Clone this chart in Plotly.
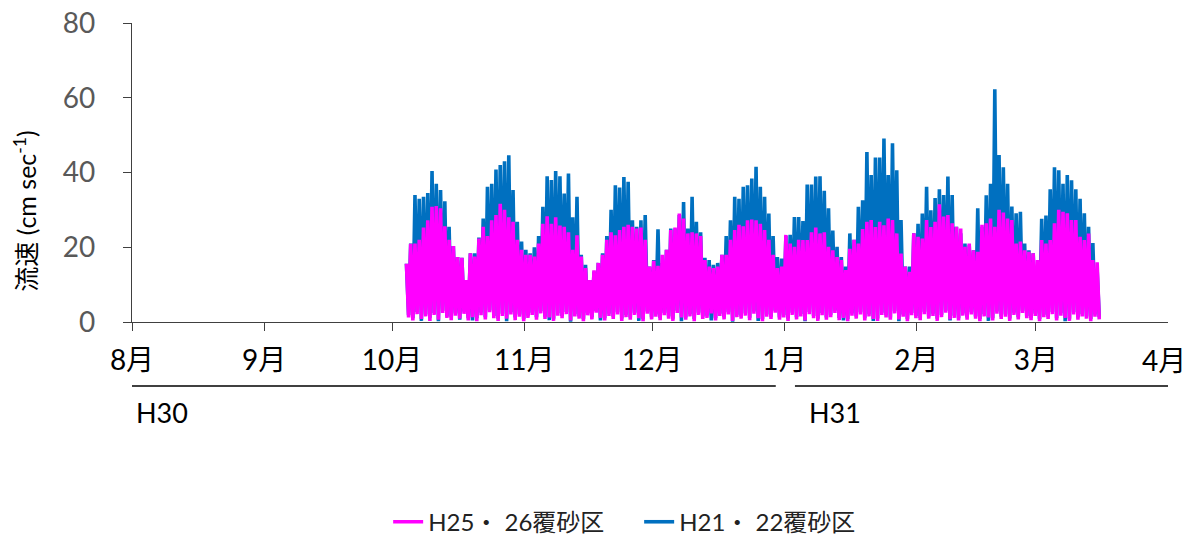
import pandas as pd
import plotly.graph_objects as go

# Daily current-speed envelope (cm/sec), one value per day from 2018-10-04
start_date = "2018-10-04"

# H21・22 sand-capping area: daily peak and daily low
blue_max = [
    15.6, 21.0, 34.0, 33.0, 33.5, 34.5, 40.4, 37.0, 35.3, 32.3,
    25.5, 20.3, 17.4, 17.2, 10.8, 18.4, 18.4, 22.6, 27.7, 36.2,
    37.0, 40.8, 42.0, 43.0, 44.6, 35.3, 26.8, 21.5, 19.3, 18.4,
    20.0, 23.0, 30.8, 39.0, 38.0, 40.4, 39.0, 34.4, 39.7, 28.0,
    33.5, 18.0, 15.3, 11.2, 13.5, 15.8, 18.4, 23.0, 30.0, 36.6,
    36.0, 38.8, 37.5, 27.2, 25.5, 27.2, 28.6, 14.8, 16.6, 24.8,
    15.8, 19.3, 25.0, 25.0, 28.6, 32.1, 25.0, 33.5, 26.8, 24.0,
    17.2, 16.6, 15.3, 15.8, 18.0, 23.0, 27.2, 33.5, 33.0, 36.2,
    36.6, 38.4, 41.5, 36.2, 33.5, 29.0, 23.0, 17.4, 17.0, 23.0,
    23.3, 28.1, 28.1, 27.0, 36.8, 36.8, 38.9, 39.0, 35.1, 30.4,
    24.5, 20.1, 17.4, 14.8, 23.7, 22.0, 30.8, 32.6, 45.5, 39.3,
    44.0, 44.0, 49.1, 39.3, 47.8, 40.6, 27.3, 14.8, 14.8, 23.7,
    26.3, 29.0, 36.2, 29.9, 33.2, 35.5, 34.0, 38.9, 34.0, 25.5,
    23.7, 21.0, 20.5, 19.2, 30.4, 25.5, 33.9, 37.0, 62.3, 44.7,
    41.4, 37.0, 30.9, 29.1, 29.5, 21.0, 19.2, 18.4, 14.8, 27.6,
    28.5, 35.5, 41.4, 40.6, 37.0, 39.3, 37.9, 35.5, 33.0, 29.1,
    25.5, 21.1, 14.0,
]
blue_min = [
    1.8, 1.0, 2.7, 0.3, 2.0, 1.1, 2.4, 0.2, 3.0, 1.5,
    1.2, 2.3, 0.6, 2.8, 1.0, 0.4, 1.0, 2.5, 1.3, 3.1,
    1.6, 0.9, 2.2, 0.2, 2.6, 1.2, 2.0, 0.8, 1.7, 2.5,
    1.3, 2.9, 1.4, 0.5, 0.9, 2.3, 1.6, 2.7, 0.1, 2.1,
    1.5, 0.8, 2.4, 1.3, 3.0, 0.4, 1.0, 2.2, 1.4, 2.6,
    0.9, 1.9, 1.2, 2.5, 0.3, 0.8, 2.8, 1.3, 2.0, 1.1,
    2.4, 1.5, 0.9, 3.0, 0.2, 1.2, 2.1, 0.8, 2.5, 1.4,
    1.7, 0.4, 1.0, 2.2, 1.3, 2.6, 0.1, 1.9, 1.5, 2.3,
    1.1, 2.8, 0.3, 0.8, 2.0, 1.4, 3.0, 1.2, 1.8, 0.9,
    2.5, 1.3, 2.1, 0.2, 2.7, 1.6, 0.9, 2.4, 1.2, 1.9,
    3.0, 1.1, 0.4, 0.8, 2.3, 1.5, 2.6, 1.0, 2.1, 0.3,
    0.9, 2.5, 1.8, 1.2, 2.9, 0.2, 2.0, 0.8, 2.4, 1.6,
    1.1, 2.7, 1.5, 2.2, 0.9, 1.9, 3.0, 0.4, 1.7, 1.0,
    2.3, 1.2, 2.6, 1.5, 0.8, 2.1, 0.3, 1.0, 2.8, 1.4,
    2.0, 0.9, 2.5, 1.3, 3.0, 1.6, 1.1, 2.2, 0.8, 1.9,
    1.4, 2.7, 1.0, 2.3, 0.2, 0.9, 2.6, 1.2, 2.1, 1.5,
    0.8, 2.0, 1.3,
]

# H25・26 sand-capping area: daily peak and daily low
magenta_max = [
    15.6, 20.9, 21.0, 22.0, 25.3, 27.2, 30.8, 31.0, 30.4, 25.6,
    22.0, 20.3, 17.4, 17.2, 11.2, 18.4, 17.5, 22.3, 25.5, 23.0,
    27.2, 28.6, 31.6, 30.0, 28.0, 26.8, 22.0, 19.3, 18.0, 18.0,
    17.5, 21.0, 26.3, 28.3, 26.3, 28.0, 25.8, 25.5, 24.0, 19.3,
    23.2, 17.5, 14.4, 11.2, 13.8, 15.8, 18.0, 22.0, 24.0, 23.2,
    24.6, 25.5, 26.0, 25.5, 25.0, 25.3, 22.0, 14.8, 16.4, 15.0,
    18.0, 19.3, 24.6, 25.3, 29.0, 27.7, 23.7, 24.0, 23.7, 23.0,
    16.6, 14.8, 14.4, 14.8, 18.0, 18.0, 22.0, 24.6, 26.0, 25.6,
    27.2, 27.4, 27.2, 26.3, 24.6, 22.0, 18.0, 14.4, 14.8, 23.3,
    21.0, 20.1, 22.0, 21.9, 21.9, 24.0, 25.3, 23.7, 24.0, 20.1,
    19.2, 17.4, 16.6, 13.9, 19.6, 22.0, 21.0, 24.9, 26.8, 27.3,
    25.4, 26.8, 25.9, 27.7, 27.3, 23.7, 18.3, 14.8, 13.4, 23.7,
    22.8, 22.3, 27.3, 25.4, 26.8, 31.5, 28.2, 28.6, 26.4, 25.5,
    25.0, 20.1, 21.0, 19.2, 18.8, 26.0, 26.4, 27.7, 25.5, 30.0,
    29.3, 27.7, 27.3, 21.0, 21.5, 19.2, 18.8, 18.4, 16.6, 21.9,
    21.0, 21.9, 26.4, 30.0, 29.5, 29.1, 27.3, 27.3, 22.8, 21.9,
    23.7, 16.6, 16.0,
]
magenta_min = [
    1.2, 0.4, 2.1, 0.8, 1.5, 0.3, 1.9, 0.6, 2.4, 1.1,
    0.5, 1.7, 0.9, 2.2, 0.4, 1.3, 0.2, 1.8, 0.7, 2.6,
    1.0, 0.3, 1.6, 0.9, 2.0, 0.5, 1.4, 0.2, 1.1, 1.9,
    0.6, 2.3, 0.8, 1.2, 0.3, 1.7, 1.0, 2.1, 0.4, 1.5,
    0.9, 0.2, 1.8, 0.7, 2.5, 1.1, 0.4, 1.6, 0.8, 2.0,
    0.3, 1.3, 0.6, 1.9, 1.0, 0.2, 2.2, 0.7, 1.4, 0.5,
    1.8, 0.9, 0.3, 2.4, 1.2, 0.6, 1.5, 0.2, 1.9, 0.8,
    1.1, 2.3, 0.4, 1.6, 0.7, 2.0, 0.3, 1.3, 0.9, 1.7,
    0.5, 2.2, 1.0, 0.2, 1.4, 0.8, 2.5, 0.6, 1.2, 0.3,
    1.9, 0.7, 1.5, 0.4, 2.1, 1.0, 0.3, 1.8, 0.6, 1.3,
    2.4, 0.5, 1.1, 0.2, 1.7, 0.9, 2.0, 0.4, 1.5, 0.8,
    0.3, 1.9, 1.2, 0.6, 2.3, 0.7, 1.4, 0.2, 1.8, 1.0,
    0.5, 2.1, 0.9, 1.6, 0.3, 1.3, 2.5, 0.7, 1.1, 0.4,
    1.7, 0.6, 2.0, 0.9, 0.2, 1.5, 1.2, 0.4, 2.2, 0.8,
    1.4, 0.3, 1.9, 0.7, 2.4, 1.0, 0.5, 1.6, 0.2, 1.3,
    0.8, 2.1, 0.4, 1.7, 1.1, 0.3, 2.0, 0.6, 1.5, 0.9,
    0.2, 1.4, 0.7,
]

month_ticks = ["2018-08-01", "2018-09-01", "2018-10-01", "2018-11-01", "2018-12-01",
               "2019-01-01", "2019-02-01", "2019-03-01", "2019-04-01"]
month_labels = ["8月", "9月", "10月", "11月", "12月", "1月", "2月", "3月", "4月"]
year_labels = ["H30", "H31"]
series_names = ["H21・ 22覆砂区", "H25・ 26覆砂区"]

days = pd.date_range(start_date, periods=len(blue_max), freq="D")


def zigzag(hi, lo):
    """Alternate each day's peak (morning) with its low (evening)."""
    xs, ys = [], []
    for d, h, l in zip(days, hi, lo):
        xs += [d + pd.Timedelta(hours=9), d + pd.Timedelta(hours=21)]
        ys += [h, l]
    return xs, ys


bx, by = zigzag(blue_max, blue_min)
mx, my = zigzag(magenta_max, magenta_min)

fig = go.Figure()
fig.add_trace(go.Scatter(x=bx, y=by, mode="lines", name=series_names[0],
                         line=dict(color="#0070C0", width=3.6, simplify=False)))
fig.add_trace(go.Scatter(x=mx, y=my, mode="lines", name=series_names[1],
                         line=dict(color="#FF00FF", width=3.6, simplify=False)))

latin = "Lato, 'Noto Sans CJK JP', sans-serif"
axis_col = "#404040"
month_font = dict(size=28, color="black")

fig.update_layout(
    width=1187, height=535, autosize=False,
    margin=dict(l=132, r=19, t=23, b=213, autoexpand=False),
    plot_bgcolor="white", paper_bgcolor="white",
    font=dict(family=latin, color="black"),
    showlegend=True,
    legend=dict(orientation="h", xref="container", yref="container",
                x=0.327, xanchor="left", y=0.024, yanchor="middle",
                traceorder="reversed", font=dict(size=24, color="#222"),
                itemwidth=30, entrywidth=206, bgcolor="rgba(0,0,0,0)"),
    xaxis=dict(
        type="date", range=[month_ticks[0], month_ticks[-1]],
        tickvals=month_ticks[:-1], ticktext=month_labels[:-1],
        ticks="outside", ticklen=8, tickcolor=axis_col, tickwidth=1.3,
        showline=True, linecolor=axis_col, linewidth=1.3,
        showgrid=False, zeroline=False, automargin=False,
        tickfont=month_font, ticklabelstandoff=5,
    ),
    yaxis=dict(
        range=[0, 80], tickvals=[0, 20, 40, 60, 80],
        ticks="outside", ticklen=8, tickcolor=axis_col, tickwidth=1.3,
        showline=True, linecolor=axis_col, linewidth=1.3,
        showgrid=False, zeroline=False, automargin=False,
        tickfont=dict(size=28, color="#595959"), ticklabelstandoff=22,
    ),
)

# The April label sits on the figure edge, so it is placed as an annotation
fig.add_annotation(text=month_labels[-1], xref="x", yref="paper", x=month_ticks[-1],
                   y=-0.128, xanchor="center", yanchor="middle", xshift=-4,
                   showarrow=False, font=month_font)

# Fiscal-year brackets under the month labels
fig.add_shape(type="line", xref="x", yref="paper", x0="2018-08-01", x1="2018-12-30",
              y0=-0.214, y1=-0.214, line=dict(color="black", width=1.3))
fig.add_shape(type="line", xref="x", yref="paper", x0="2019-01-03T12:00", x1="2019-04-01",
              y0=-0.214, y1=-0.214, line=dict(color="black", width=1.3))
fig.add_annotation(text=year_labels[0], xref="paper", yref="paper", x=0.002, y=-0.304,
                   xanchor="left", yanchor="middle", showarrow=False,
                   font=dict(size=27, color="black"))
fig.add_annotation(text=year_labels[1], xref="paper", yref="paper", x=0.652, y=-0.304,
                   xanchor="left", yanchor="middle", showarrow=False,
                   font=dict(size=27, color="black"))

# Y-axis title
fig.add_annotation(text="流速 (cm sec<sup>-1</sup>)", xref="paper", yref="paper",
                   x=-0.103, y=0.37, xanchor="center", yanchor="middle",
                   textangle=-90, showarrow=False,
                   font=dict(size=25, color="black"))

fig.write_html("out.html")
